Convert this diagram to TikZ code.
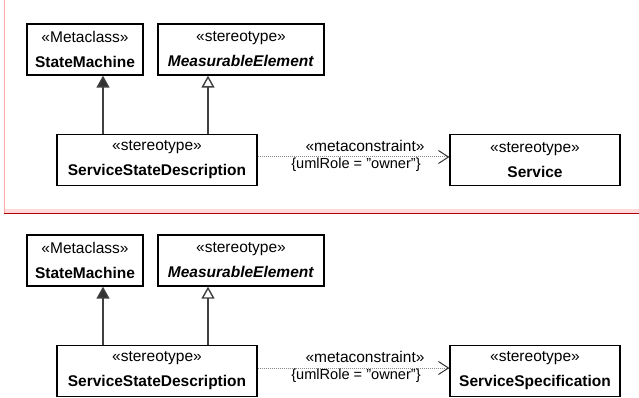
\documentclass[tikz,border=0pt]{standalone}
\usepackage{fontspec}
\setmainfont{Liberation Sans}
\usetikzlibrary{arrows.meta}

\begin{document}
\begin{tikzpicture}[x=1pt, y=-1pt, every node/.style={font=\fontsize{15.5}{25}\selectfont}]
  \tikzstyle{umlclass}=[draw,line width=1.3pt,align=center,minimum height=51pt,inner sep=0pt]
  \tikzstyle{genline}=[draw=black!75,line width=1.4pt]
  \tikzstyle{metadep}=[draw=black!45,line width=1pt,dash pattern=on 1pt off 1pt]
  \tikzstyle{rolelabel}=[font=\fontsize{14.6}{18}\selectfont]
  \useasboundingbox (0,0) rectangle (639,398);
  % frame of the upper diagram
  \fill[red!15] (5,209) rectangle (639,213);
  \draw[red!35,line width=1pt] (4.5,0) -- (4.5,214);
  \draw[red!70!black,line width=1.5pt] (4,213.5) -- (639,213.5);
  % upper diagram
  \node[umlclass,minimum width=116pt] (smA) at (85,49.5) {«Metaclass»\\\textbf{StateMachine}};
  \node[umlclass,minimum width=166pt] (meA) at (241,49.5) {«stereotype»\\\textbf{\textit{MeasurableElement}}};
  \node[umlclass,minimum width=200pt] (ssdA) at (157,160) {«stereotype»\\\textbf{ServiceStateDescription}};
  \node[umlclass,minimum width=170pt] (svcA) at (535,160) {«stereotype»\\\textbf{Service}};
  \draw[genline,-{Triangle[length=12pt,width=13pt,fill=black!80]}] ([xshift=-54pt]ssdA.north) -- ([xshift=18pt]smA.south);
  \draw[genline,-{Triangle[open,length=12pt,width=13pt]}] ([xshift=51pt]ssdA.north) -- ([xshift=-33pt]meA.south);
  \draw[metadep,-{Straight Barb[length=10pt,width=13pt,black!80]}] ([yshift=3pt]ssdA.east) -- ([yshift=3pt]svcA.west);
  \node (mcA) at (365,146) {«metaconstraint»};
  \node[rolelabel] (roleA) at (356,165) {\{umlRole = "owner"\}};
  % lower diagram
  \node[umlclass,minimum width=116pt] (smB) at (85,260.5) {«Metaclass»\\\textbf{StateMachine}};
  \node[umlclass,minimum width=166pt] (meB) at (241,260.5) {«stereotype»\\\textbf{\textit{MeasurableElement}}};
  \node[umlclass,minimum width=200pt] (ssdB) at (157,371) {«stereotype»\\\textbf{ServiceStateDescription}};
  \node[umlclass,minimum width=170pt] (specB) at (535,371) {«stereotype»\\\textbf{ServiceSpecification}};
  \draw[genline,-{Triangle[length=12pt,width=13pt,fill=black!80]}] ([xshift=-54pt]ssdB.north) -- ([xshift=18pt]smB.south);
  \draw[genline,-{Triangle[open,length=12pt,width=13pt]}] ([xshift=51pt]ssdB.north) -- ([xshift=-33pt]meB.south);
  \draw[metadep,-{Straight Barb[length=10pt,width=13pt,black!80]}] ([yshift=3pt]ssdB.east) -- ([yshift=3pt]specB.west);
  \node (mcB) at (365,357) {«metaconstraint»};
  \node[rolelabel] (roleB) at (356,376) {\{umlRole = "owner"\}};
\end{tikzpicture}
\end{document}
